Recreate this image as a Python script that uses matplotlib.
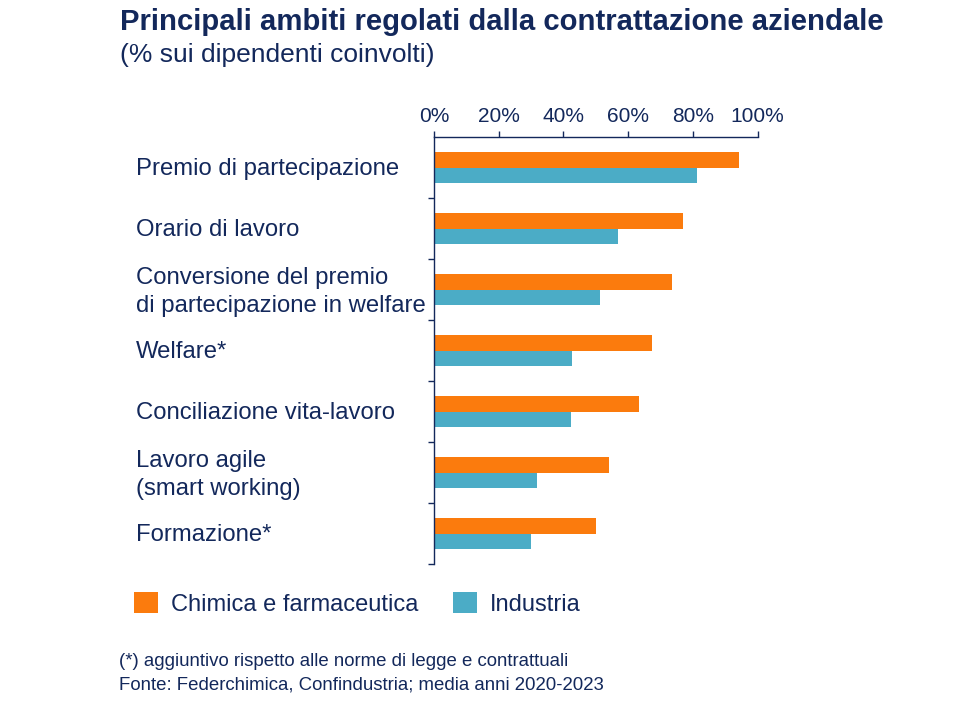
import matplotlib
matplotlib.use("Agg")
import matplotlib.pyplot as plt
from matplotlib.patches import Patch
from matplotlib.transforms import blended_transform_factory, offset_copy

plt.rcParams["font.family"] = ["Liberation Sans", "DejaVu Sans"]

# ── 数据 ──
categories = [
    "Premio di partecipazione",
    "Orario di lavoro",
    "Conversione del premio\ndi partecipazione in welfare",
    "Welfare*",
    "Conciliazione vita-lavoro",
    "Lavoro agile\n(smart working)",
    "Formazione*",
]
chimica = [94.2, 76.9, 73.5, 67.3, 63.3, 54.0, 50.0]
industria = [81.1, 56.8, 51.2, 42.6, 42.3, 31.8, 29.9]
series_names = ["Chimica e farmaceutica", "Industria"]
xticks = [0, 20, 40, 60, 80, 100]

NAVY = "#13285b"
ORANGE = "#fb7b0d"
TEAL = "#4bacc6"

fig = plt.figure(figsize=(9.6, 7.2), dpi=100)
ax = fig.add_axes([434 / 960, 1 - 564 / 720, (757.7 - 434) / 960, (564 - 137) / 720])

y = list(range(len(categories)))
h = 0.26
ax.barh([i - h / 2 for i in y], chimica, height=h, color=ORANGE)
ax.barh([i + h / 2 for i in y], industria, height=h, color=TEAL)

ax.set_xlim(0, 100)
ax.set_ylim(len(categories) - 0.5, -0.5)

# ── 坐标轴 ──
for s in ["right", "bottom"]:
    ax.spines[s].set_visible(False)
for s in ["left", "top"]:
    ax.spines[s].set_color(NAVY)
    ax.spines[s].set_linewidth(1.0)

ax.xaxis.tick_top()
ax.set_xticks(xticks)
ax.set_xticklabels([f"{v}%" for v in xticks], fontsize=15, color=NAVY)
ax.tick_params(axis="x", direction="out", length=4, width=1, color=NAVY, pad=4)

ax.set_yticks([i + 0.5 for i in y])
ax.set_yticklabels([])
ax.tick_params(axis="y", direction="out", length=4, width=1, color=NAVY)

# 类别标签：左对齐，最后一行基线相对类别中心偏移
trans = blended_transform_factory(fig.transFigure, ax.transData)
for i, lab in enumerate(categories):
    n = lab.count("\n") + 1
    off_px = 7.5 + (n - 1) * 15
    tr = offset_copy(trans, fig=fig, y=-off_px, units="dots")
    ax.text(136 / 960, i, lab, transform=tr, ha="left", va="baseline",
            fontsize=17.2, color=NAVY, linespacing=1.34)

# ── 标题 ──
fig.text(120 / 960, 1 - 7.5 / 720, "Principali ambiti regolati dalla contrattazione aziendale",
         ha="left", va="top", fontsize=21.1, fontweight="bold", color=NAVY)
fig.text(120 / 960, 1 - 43 / 720, "(% sui dipendenti coinvolti)",
         ha="left", va="top", fontsize=19, color=NAVY)

# ── 图例 ──
handles = [Patch(facecolor=ORANGE), Patch(facecolor=TEAL)]
fig.legend(handles, series_names, loc="upper left",
           bbox_to_anchor=(134 / 960, 1 - 592 / 720), ncol=2, frameon=False,
           fontsize=17, handlelength=1.0, handleheight=1.0, handletextpad=0.55,
           columnspacing=1.5, borderpad=0, borderaxespad=0, labelcolor=NAVY)

# ── 注释 ──
fig.text(119 / 960, 1 - 653 / 720,
         "(*) aggiuntivo rispetto alle norme di legge e contrattuali",
         ha="left", va="top", fontsize=13.4, color=NAVY)
fig.text(119 / 960, 1 - 677 / 720,
         "Fonte: Federchimica, Confindustria; media anni 2020-2023",
         ha="left", va="top", fontsize=13.4, color=NAVY)

fig.savefig("out.png", dpi=100)
